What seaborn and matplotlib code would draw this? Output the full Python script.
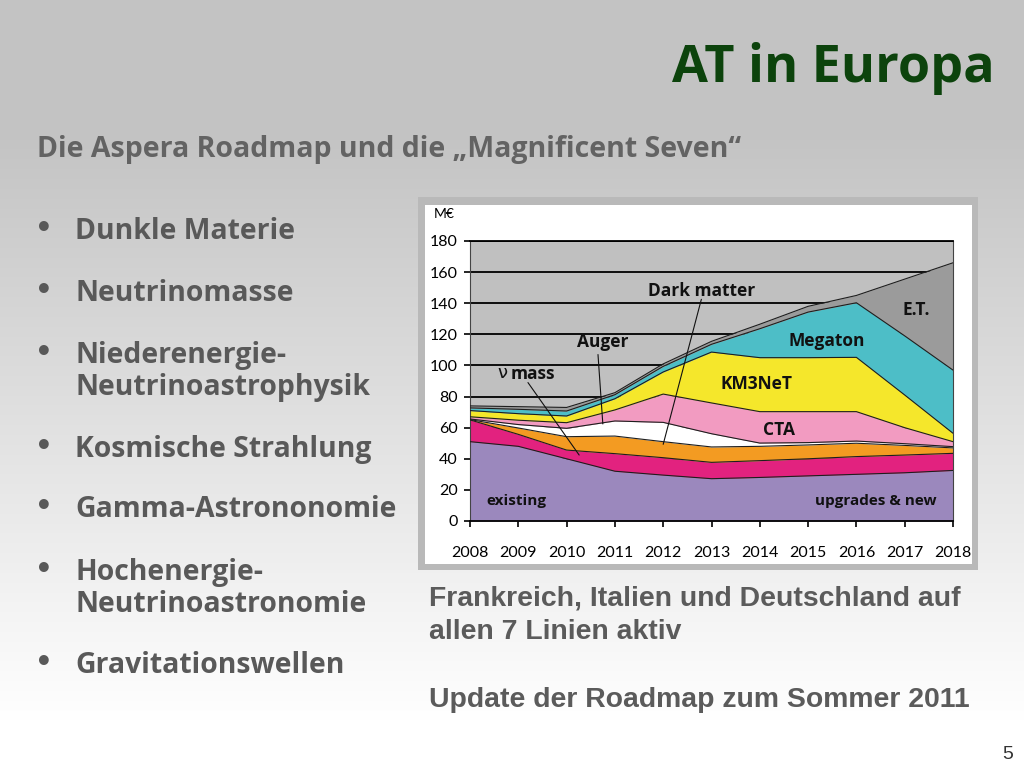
import numpy as np
import pandas as pd
import matplotlib
matplotlib.use("Agg")
import matplotlib.pyplot as plt
from matplotlib.patches import Rectangle
import seaborn as sns

# ---------------- data (M€ per year, stacked layers) ----------------
years = [2008, 2009, 2010, 2011, 2012, 2013, 2014, 2015, 2016, 2017, 2018]
existing    = [51, 48, 40, 32, 29.5, 27.2, 28, 29, 30, 31, 32.5]
nu_mass     = [14, 7.7, 5.6, 11.3, 11.2, 10.5, 10.8, 11, 11.4, 11.4, 11]
dark_matter = [0.2, 4.1, 8.6, 11.3, 10.3, 9.9, 9.2, 8.9, 8.6, 6.2, 3.5]
auger       = [0.4, 2.2, 5.4, 9.7, 12.4, 8.5, 2.1, 1.5, 1.4, 1.1, 0.8]
cta         = [1.4, 2.8, 3.6, 7.1, 18.2, 19.8, 20.2, 19.9, 18.9, 10.3, 3.2]
km3net      = [4, 4.2, 4.3, 7.2, 14.2, 32.7, 34.7, 34.7, 34.9, 21, 5.4]
megaton     = [1.7, 2.8, 3.2, 2.6, 3.6, 5, 18.6, 29.3, 35.1, 38, 40.6]
et          = [1.3, 1.7, 2.3, 1.3, 1.6, 1.9, 2.9, 3.7, 4.7, 36.5, 69]

series_names = ["existing", "nu mass", "Dark matter", "Auger", "CTA", "KM3NeT", "Megaton", "E.T."]
series_vals = [existing, nu_mass, dark_matter, auger, cta, km3net, megaton, et]
colors = ["#9b88bd", "#e2227f", "#f39b22", "#ffffff", "#f29bc1", "#f5e72b", "#4dbec7", "#9b9b9b"]

yticks = [0, 20, 40, 60, 80, 100, 120, 140, 160, 180]

title = "AT in Europa"
subtitle = "Die Aspera Roadmap und die \u201eMagnificent Seven\u201c"
bullets = [("Dunkle Materie", 239), ("Neutrinomasse", 301),
           ("Niederenergie-\nNeutrinoastrophysik", 363), ("Kosmische Strahlung", 457),
           ("Gamma-Astrononomie", 517), ("Hochenergie-\nNeutrinoastronomie", 580),
           ("Gravitationswellen", 673)]

# ---------------- style ----------------
sns.set_style("white")
plt.rcParams["font.family"] = ["Lato", "DejaVu Sans"]
SLIDE = ["Open Sans", "DejaVu Sans"]

W, H = 1024, 768
fig = plt.figure(figsize=(W / 100, H / 100), dpi=100)

def fx(px):
    return px / W

def fy(py):
    return 1 - py / H

# slide background gradient
bg = fig.add_axes([0, 0, 1, 1], zorder=-10)
rows = np.arange(H)
t = np.clip((rows - 130) / (720 - 130), 0, 1)
vals = 0.765 + (1.0 - 0.765) * t
grad = np.repeat(vals[:, None], 4, axis=1)
bg.imshow(np.dstack([grad, grad, grad]), aspect="auto", extent=[0, 1, 0, 1], origin="upper")
bg.set_axis_off()

# chart frame
fig.patches.append(Rectangle((fx(418), fy(570)), fx(978) - fx(418), fy(197) - fy(570),
                             transform=fig.transFigure, facecolor="#b9b9b9", edgecolor="none", zorder=-5))
fig.patches.append(Rectangle((fx(425), fy(564)), fx(972) - fx(425), fy(205) - fy(564),
                             transform=fig.transFigure, facecolor="white", edgecolor="none", zorder=-4))

# slide texts
fig.text(fx(995), fy(82), title, ha="right", va="baseline", fontsize=37.5, fontweight="bold",
         color="#0c430c", family=SLIDE)
fig.text(fx(37), fy(157), subtitle, ha="left", va="baseline", fontsize=20.5, fontweight="bold",
         color="#636363", family=SLIDE)
for txt, base in bullets:
    for i, ln in enumerate(txt.split("\n")):
        fig.text(fx(75), fy(base + 32 * i), ln, ha="left", va="baseline",
                 fontsize=20.4, fontweight="bold", color="#595959", family=SLIDE)
    fig.text(fx(44), fy(base - 10), "\u2022", ha="center", va="center", fontsize=20,
             fontweight="bold", color="#595959", family=["DejaVu Sans"])

for txt, base in [("Frankreich, Italien und Deutschland auf", 605), ("allen 7 Linien aktiv", 639),
                  ("Update der Roadmap zum Sommer 2011", 707)]:
    fig.text(fx(429), fy(base), txt, ha="left", va="baseline", fontsize=20.4, fontweight="bold",
             color="#5b5b5b", family=["Liberation Sans"])
fig.text(fx(1013), fy(759), "5", ha="right", va="baseline", fontsize=14, color="#333333",
         family=["Liberation Sans"])

# ---------------- chart ----------------
ax = fig.add_axes([fx(470), fy(521), fx(953) - fx(470), fy(241) - fy(521)])
ax.set_facecolor("#c0c0c0")
ax.stackplot(years, *series_vals, colors=colors, linewidth=0, zorder=2)

cum = np.cumsum(np.array(series_vals), axis=0)
df = pd.DataFrame({"year": np.tile(years, len(series_names)),
                   "top": cum.ravel(),
                   "layer": np.repeat(series_names, len(years))})
sns.lineplot(data=df, x="year", y="top", units="layer", estimator=None, color="#1e1e1e",
             linewidth=0.8, ax=ax, zorder=3, legend=False)

ax.set_xlim(years[0], years[-1])
ax.set_ylim(0, 180)
ax.set_yticks(yticks)
ax.set_xticks(years)
ax.set_xticklabels([str(y) for y in years])
ax.yaxis.grid(True, color="black", linewidth=1.3)
ax.set_axisbelow(True)
ax.set_xlabel("")
ax.set_ylabel("")
ax.tick_params(axis="x", direction="out", length=4.5, width=1.2, color="black", pad=13.5,
               labelsize=11.5, labelcolor="black", bottom=True)
ax.tick_params(axis="y", direction="out", length=4, width=1.2, color="black", pad=5,
               labelsize=11.5, labelcolor="black", left=True)
for s in ["left", "right"]:
    ax.spines[s].set_color("#444444")
    ax.spines[s].set_linewidth(0.8)
ax.spines["bottom"].set_color("black")
ax.spines["bottom"].set_linewidth(1.3)
ax.spines["top"].set_color("black")
ax.spines["top"].set_linewidth(1.3)

fig.text(fx(434), fy(218), "M\u20ac", ha="left", va="baseline", fontsize=10, color="black")

lab = dict(fontsize=12.5, fontweight="bold", color="#111111", ha="center", va="center", zorder=6,
           family=SLIDE)
ax.text(2012.79, 148, "Dark matter", **lab)
ax.text(2010.74, 115.3, "Auger", **lab)
ax.text(2009.31, 94.5, "mass", **lab)
ax.text(2008.68, 95.2, "\u03bd", fontsize=13, color="#111111", ha="center", va="center", zorder=6,
        family=["DejaVu Sans"])
ax.text(2017.24, 135.6, "E.T.", **lab)
ax.text(2015.39, 115.9, "Megaton", **lab)
ax.text(2013.93, 87.9, "KM3NeT", **lab)
ax.text(2014.4, 58.5, "CTA", **lab)
ax.text(2008.95, 12.9, "existing", **{**lab, "fontsize": 11})
ax.text(2016.41, 12.9, "upgrades & new", **{**lab, "fontsize": 11})

for (x0, y0), (x1, y1) in [((2009.2, 89), (2010.26, 42.4)),
                           ((2010.65, 107), (2010.75, 62.4)),
                           ((2012.79, 142.5), (2012.0, 49.3))]:
    ax.plot([x0, x1], [y0, y1], color="#111111", linewidth=0.8, zorder=5)

fig.savefig("out.png", dpi=100)
